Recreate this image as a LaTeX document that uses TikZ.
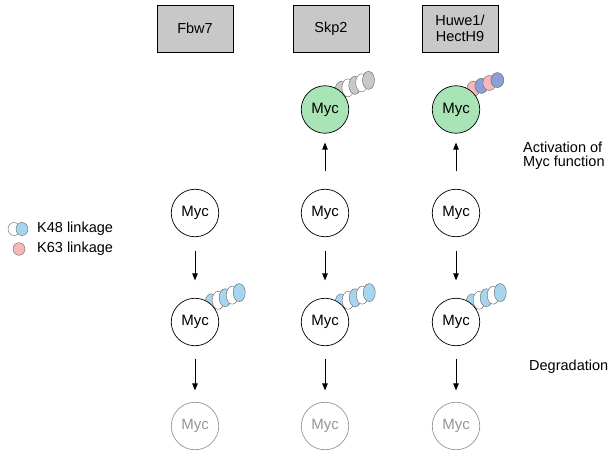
\documentclass[tikz,border=0pt]{standalone}
\usepackage{fontspec}
\setmainfont{Liberation Sans}
\usetikzlibrary{arrows.meta}

\definecolor{mycgreen}{RGB}{168,228,182}
\definecolor{boxgray}{RGB}{200,200,200}
\definecolor{kblue}{RGB}{166,214,238}
\definecolor{kgray}{RGB}{200,200,200}
\definecolor{kpink}{RGB}{246,184,184}
\definecolor{kperi}{RGB}{140,160,216}
\definecolor{ubline}{RGB}{100,100,100}
\definecolor{spentgray}{RGB}{150,150,150}

\pgfdeclarelayer{chains}
\pgfsetlayers{chains,main}

\tikzset{
  myc/.style={circle, draw=black, line width=0.7pt, fill=white,
    minimum size=47.5pt, inner sep=0pt, font=\fontsize{15}{17}\selectfont},
  active/.style={myc, fill=mycgreen},
  spent/.style={myc, draw=spentgray, text=spentgray},
  ligase/.style={draw=black, line width=0.7pt, fill=boxgray,
    minimum width=76pt, minimum height=47pt, inner sep=0pt, align=center,
    font=\fontsize{14.5}{15.5}\selectfont},
  flow/.style={-{Triangle[length=7pt,width=5.5pt]}, line width=0.8pt},
  ub/.style={draw=ubline, line width=0.4pt},
  sidenote/.style={anchor=west, inner sep=0pt, align=left,
    font=\fontsize{14.5}{14}\selectfont},
}

% ubiquitin chain: #1 node, #2 start radius, #3 spacing, #4/#5 radii, #6 colours
\newcommand\ubchain[6]{%
  \foreach \ubc [count=\ubi from 0] in {#6} {
    \path[ub, fill=\ubc] (#1.center) ++(50:#2) ++(20:{\ubi*#3})
      ellipse [x radius=#4, y radius=#5];
  }%
}

\begin{document}
\begin{tikzpicture}[x=1pt, y=1pt]
\useasboundingbox (0,0) rectangle (615,450);

% E3 ligases
\node[ligase] (fbw)  at (195,421.5) {Fbw7};
\node[ligase] (skp)  at (331,421.5) {Skp2};
\node[ligase] (huwe) at (460,421.5) {Huwe1/\\HectH9};

% activated Myc
\node[active] (skpA)  at (325,340.5) {Myc};
\node[active] (huweA) at (456,340.5) {Myc};

% unmodified Myc
\node[myc] (fbw1)  at (195,237) {Myc};
\node[myc] (skp1)  at (325,237) {Myc};
\node[myc] (huwe1) at (456,237) {Myc};

% ubiquitylated Myc
\node[myc] (fbw2)  at (195,128) {Myc};
\node[myc] (skp2)  at (325,128) {Myc};
\node[myc] (huwe2) at (456,128) {Myc};

% degraded Myc
\node[spent] (fbw3)  at (195,24) {Myc};
\node[spent] (skp3)  at (325,24) {Myc};
\node[spent] (huwe3) at (456,24) {Myc};

% ubiquitin chains, behind the Myc circles
\begin{pgfonlayer}{chains}
  \ubchain{skpA}{25}{7.3}{6}{9}{kgray,white,kgray,white,kgray}
  \ubchain{huweA}{27}{8.5}{6.5}{7.5}{kpink,kperi,kpink,kperi}
  \ubchain{fbw2}{25}{7.5}{6}{9}{kblue,white,kblue,white,kblue}
  \ubchain{skp2}{25}{7.5}{6}{9}{kblue,white,kblue,white,kblue}
  \ubchain{huwe2}{25}{7.5}{6}{9}{kblue,white,kblue,white,kblue}
\end{pgfonlayer}

% arrows
\draw[flow, shorten <=17.5pt, shorten >=9pt] (skp1) -- (skpA);
\draw[flow, shorten <=17.5pt, shorten >=9pt] (huwe1) -- (huweA);
\foreach \c in {fbw, skp, huwe} {
  \draw[flow, shorten <=13.5pt, shorten >=17.5pt] (\c1) -- (\c2);
  \draw[flow, shorten <=12.5pt, shorten >=11.5pt] (\c2) -- (\c3);
}

% side notes
\node[sidenote] (act) at (523,294) {Activation of\\Myc function};
\node[sidenote] (deg) at (529,83) {Degradation};

% legend
\path[ub, fill=white] (14,221) ellipse [x radius=6, y radius=6.5];
\path[ub, fill=kblue] (22,221) ellipse [x radius=6, y radius=6.5];
\path[ub, fill=kpink] (19,201) ellipse [x radius=6, y radius=6.3];
\node[sidenote] (k48) at (37,221) {K48 linkage};
\node[sidenote] (k63) at (37,201) {K63 linkage};
\end{tikzpicture}
\end{document}
